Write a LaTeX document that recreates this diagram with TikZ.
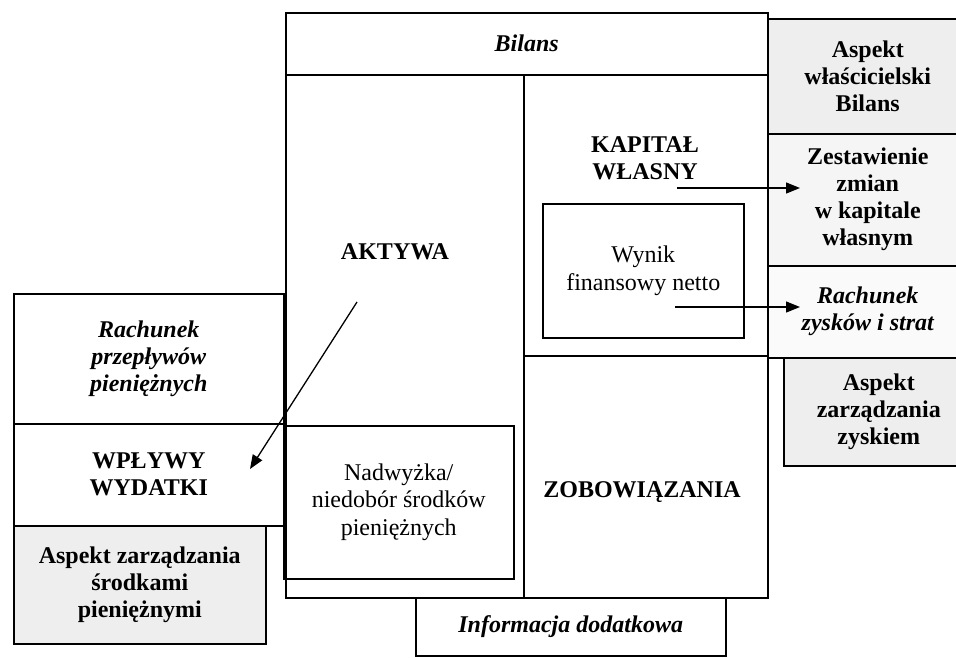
\documentclass[tikz,border=0pt]{standalone}
\usepackage{fontspec}
\setmainfont{Liberation Serif}
\usetikzlibrary{arrows.meta}

\begin{document}
\begin{tikzpicture}[x=1pt,y=-1pt,
    font=\fontsize{24}{27}\selectfont,
    box/.style={draw,line width=1.5pt,rectangle,anchor=north west,inner sep=0pt,align=center},
    aspekt/.style={box,fill=gray!13},
    napis/.style={align=center,font=\fontsize{24}{27}\selectfont\bfseries},
    zwykly/.style={font=\fontsize{24}{27.5}\selectfont},
    strzalka/.style={line width=1.3pt,-{Triangle[length=14pt,width=11pt]}}]
  \useasboundingbox (0,0) rectangle (956,657);
  \clip (0,0) rectangle (956,657);
  % bilans w srodku
  \node[box,minimum width=482pt,minimum height=585pt] (ramka) at (285,12) {};
  \node[box,minimum width=482pt,minimum height=62pt] (bilans) at (285,12) {\bfseries\itshape Bilans};
  \node[box,minimum width=238pt,minimum height=523pt] (aktywa) at (285,74) {};
  \node[box,minimum width=244pt,minimum height=281pt] (kapital) at (523,74) {};
  \node[box,minimum width=244pt,minimum height=242pt] (zobow) at (523,355) {};
  \node[napis] (taktywa) at (395,252) {AKTYWA};
  \node[napis] (tkapital) at (645,158) {KAPITAŁ\\WŁASNY};
  \node[napis] (tzobow) at (642,492) {ZOBOWIĄZANIA};
  \node[box,zwykly,minimum width=201pt,minimum height=134pt] (wynik) at (542,203) {Wynik\\finansowy netto};
  \node[box,zwykly,minimum width=230pt,minimum height=153pt] (nadwyzka) at (283,425) {Nadwyżka/\\niedobór środków\\pieniężnych};
  \node[box,minimum width=310pt,minimum height=58pt] (informacja) at (415,597) {\bfseries\itshape Informacja dodatkowa};
  % lewa strona
  \node[box,minimum width=270pt,minimum height=130pt] (przeplywy) at (13,293) {\bfseries\itshape Rachunek\\\bfseries\itshape przepływów\\\bfseries\itshape pieniężnych};
  \node[box,minimum width=270pt,minimum height=102pt] (wplywy) at (13,423) {\bfseries WPŁYWY\\\bfseries WYDATKI};
  \node[aspekt,minimum width=252pt,minimum height=118pt] (srodki) at (13,525) {\bfseries Aspekt zarządzania\\\bfseries środkami\\\bfseries pieniężnymi};
  % prawa strona
  \node[aspekt,minimum width=200pt,minimum height=115pt] (wlasc) at (767,18) {\bfseries Aspekt\\\bfseries właścicielski\\\bfseries Bilans};
  \node[box,fill=gray!8,minimum width=200pt,minimum height=132pt] (zmiany) at (767,133) {\bfseries Zestawienie\\\bfseries zmian\\\bfseries w kapitale\\\bfseries własnym};
  \node[box,fill=gray!4,minimum width=200pt,minimum height=92pt] (rzis) at (767,265) {\bfseries\itshape Rachunek\\\bfseries\itshape zysków i strat};
  \node[aspekt,minimum width=190pt,minimum height=108pt] (zysk) at (783,357) {\bfseries Aspekt\\\bfseries zarządzania\\\bfseries zyskiem};
  % strzalki
  \coordinate (k1) at (677,188);
  \coordinate (k2) at (800,188);
  \coordinate (w1) at (675,307);
  \coordinate (w2) at (800,307);
  \coordinate (a1) at (357,302);
  \coordinate (a2) at (250,469);
  \draw[strzalka] (k1) -- (k2);
  \draw[strzalka] (w1) -- (w2);
  \draw[strzalka] (a1) -- (a2);
\end{tikzpicture}
\end{document}
